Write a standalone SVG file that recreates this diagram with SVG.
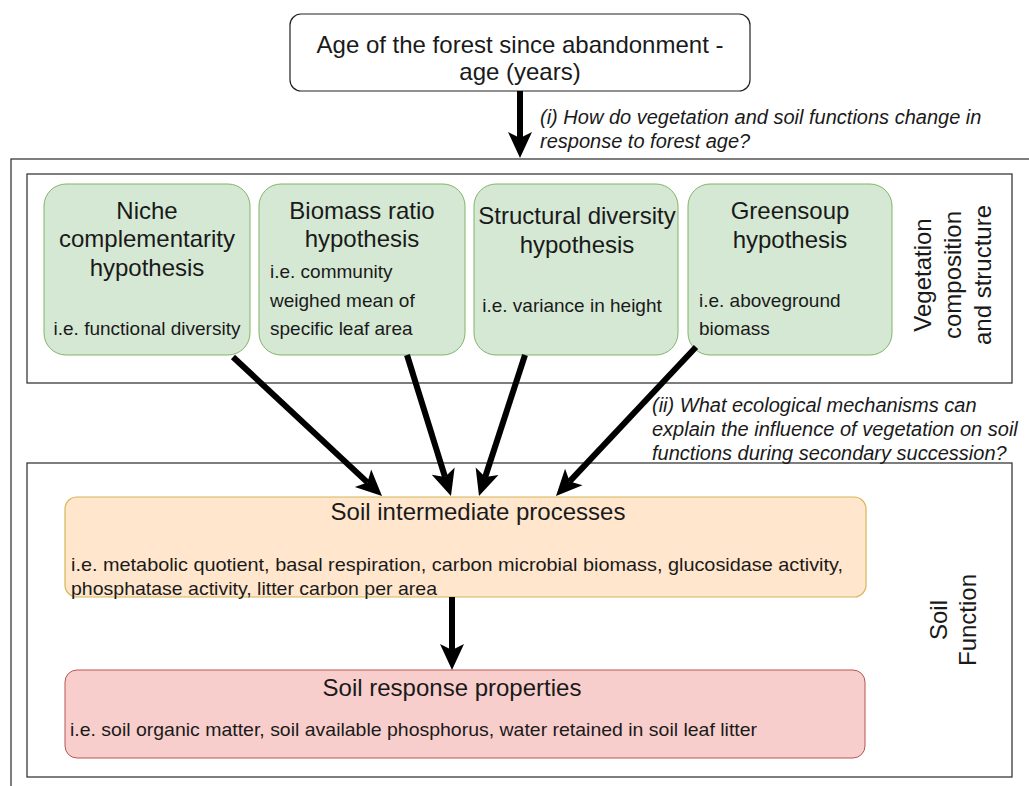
<svg xmlns="http://www.w3.org/2000/svg" width="1029" height="786" viewBox="0 0 1029 786">
<defs>
<style>
text{font-family:"Liberation Sans",Arial,sans-serif;fill:#1a1a1a}
.frame{fill:none;stroke:#3a3a3a;stroke-width:1.3}
.green{fill:#d5e8d4;stroke:#82b366;stroke-width:1}
.orange{fill:#ffe6cc;stroke:#d6b656;stroke-width:1.2}
.red{fill:#f8cecc;stroke:#b85450;stroke-width:1}
.white{fill:#fff;stroke:#222;stroke-width:1.2}
.title{font-size:24px;text-anchor:middle}
.sub{font-size:19px}
.subc{font-size:19px;text-anchor:middle}
.q{font-size:20px;font-style:italic}
.side{font-size:24px;text-anchor:middle}
.conn{stroke:#000;stroke-width:6;fill:none;marker-end:url(#arr)}
</style>
<marker id="arr" markerUnits="userSpaceOnUse" viewBox="-8 -14 30 28" refX="0" refY="0" markerWidth="30" markerHeight="28" orient="auto" overflow="visible">
<path d="M-6,-12 L20,0 L-6,12 L0,0 Z" fill="#000"/>
</marker>
</defs>
<rect width="1029" height="786" fill="#fff"/>
<g id="frames">
<rect class="frame" x="11" y="159" width="1030" height="640"/>
<rect class="frame" x="27" y="174" width="985" height="209"/>
<rect class="frame" x="27" y="463" width="985" height="314"/>
</g>
<g id="age">
<rect class="white" x="290" y="14" width="460" height="77" rx="11"/>
<text class="title" x="520" y="53">Age of the forest since abandonment -</text>
<text class="title" x="520" y="80">age (years)</text>
</g>
<g id="niche">
<rect class="green" x="44" y="184" width="206" height="171" rx="22"/>
<text class="title" x="147" y="219">Niche</text>
<text class="title" x="147" y="247">complementarity</text>
<text class="title" x="147" y="276">hypothesis</text>
<text class="subc" x="147" y="335">i.e. functional diversity</text>
</g>
<g id="biomass">
<rect class="green" x="259" y="184" width="206" height="171" rx="22"/>
<text class="title" x="362" y="219">Biomass ratio</text>
<text class="title" x="362" y="247">hypothesis</text>
<text class="sub" x="270" y="278">i.e. community</text>
<text class="sub" x="270" y="307">weighed mean of</text>
<text class="sub" x="270" y="335">specific leaf area</text>
</g>
<g id="structural">
<rect class="green" x="474" y="184" width="204" height="171" rx="22"/>
<text class="title" x="577" y="224">Structural diversity</text>
<text class="title" x="577" y="253">hypothesis</text>
<text class="subc" x="572" y="312">i.e. variance in height</text>
</g>
<g id="greensoup">
<rect class="green" x="688" y="184" width="204" height="171" rx="22"/>
<text class="title" x="790" y="219">Greensoup</text>
<text class="title" x="790" y="248">hypothesis</text>
<text class="sub" x="699" y="307">i.e. aboveground</text>
<text class="sub" x="699" y="335">biomass</text>
</g>
<g id="vegetation-label">
<g transform="translate(953,275) rotate(-90)">
<text class="side" x="0" y="-21.6">Vegetation</text>
<text class="side" x="0" y="8.4">composition</text>
<text class="side" x="0" y="38.4">and structure</text>
</g>
</g>
<g id="intermediate">
<rect class="orange" x="65" y="497" width="801" height="100" rx="12"/>
<text class="title" x="478" y="520">Soil intermediate processes</text>
<text class="sub" x="71" y="571" textLength="772" lengthAdjust="spacingAndGlyphs">i.e. metabolic quotient, basal respiration, carbon microbial biomass, glucosidase activity,</text>
<text class="sub" x="71" y="595" textLength="366" lengthAdjust="spacingAndGlyphs">phosphatase activity, litter carbon per area</text>
</g>
<g id="response">
<rect class="red" x="65" y="670" width="800" height="88" rx="12"/>
<text class="title" x="452" y="696">Soil response properties</text>
<text class="sub" x="70" y="736" textLength="687" lengthAdjust="spacingAndGlyphs">i.e. soil organic matter, soil available phosphorus, water retained in soil leaf litter</text>
</g>
<g id="soil-label">
<g transform="translate(953,620) rotate(-90)">
<text class="side" x="0" y="-6">Soil</text>
<text class="side" x="0" y="23">Function</text>
</g>
</g>
<g id="questions">
<text class="q" x="540" y="124">(i) How do vegetation and soil functions change in</text>
<text class="q" x="540" y="148">response to forest age?</text>
<text class="q" x="652" y="412">(ii) What ecological mechanisms can</text>
<text class="q" x="652" y="436">explain the influence of vegetation on soil</text>
<text class="q" x="652" y="460">functions during secondary succession?</text>
</g>
<g id="connectors">
<line class="conn" x1="520" y1="91" x2="520" y2="138"/>
<line class="conn" x1="233" y1="357" x2="367.4" y2="482.4"/>
<line class="conn" x1="407" y1="355" x2="445" y2="476.9"/>
<line class="conn" x1="525" y1="355" x2="485.2" y2="477"/>
<line class="conn" x1="696" y1="347" x2="569.7" y2="481.4"/>
<line class="conn" x1="452" y1="597" x2="452" y2="650"/>
</g>
</svg>
